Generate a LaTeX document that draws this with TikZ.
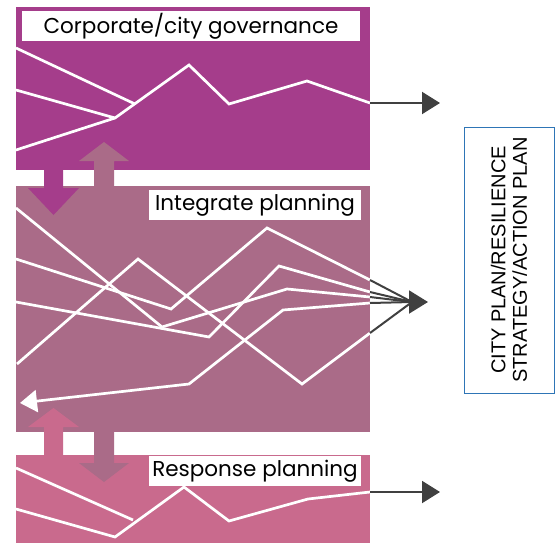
\documentclass[tikz,border=0pt]{standalone}
\usepackage{fontspec}
\setmainfont{Poppins}
\newfontfamily\arialfont{Liberation Sans}
\usepackage{xcolor}
\definecolor{govcol}{HTML}{A53D8B}
\definecolor{intcol}{HTML}{AA6B88}
\definecolor{respcol}{HTML}{C96A8D}
\definecolor{arrowgray}{HTML}{404040}
\definecolor{boxblue}{HTML}{2E75B6}
\usepackage{tikz}
\usetikzlibrary{arrows.meta}

\begin{document}
\begin{tikzpicture}[x=1pt, y=-1pt,
    tag/.style={fill=white, inner sep=0pt, minimum height=30pt,
                font=\fontsize{21.5}{24}\selectfont},
    trace/.style={draw=white, line width=2.7pt},
    outflow/.style={draw=arrowgray, line width=2pt},
    outarrow/.style={draw=arrowgray, line width=2pt,
                     -{Triangle[length=18pt, width=22pt]}},
    plan/.style={draw=boxblue, line width=1pt, align=center,
                 minimum width=266pt, minimum height=90pt,
                 font=\arialfont\fontsize{20}{21.5}\selectfont}]
  \useasboundingbox (0,0) rectangle (557,543);

  % three planning layers
  \fill[govcol] (16,7) rectangle (370,170);
  \fill[intcol] (16,186) rectangle (370,432);
  \fill[respcol] (16,455) rectangle (370,543);

  % block arrows between the layers
  \fill[govcol] (44,165) -- (63,165) -- (63,188) -- (79,188) -- (53.5,215)
    -- (28,188) -- (44,188) -- cycle;
  \fill[intcol] (94,190) -- (114,190) -- (114,161) -- (129,161) -- (104,142)
    -- (79,161) -- (94,161) -- cycle;
  \fill[respcol] (44,458) -- (63,458) -- (63,427) -- (79,427) -- (53.5,408)
    -- (28,427) -- (44,427) -- cycle;
  \fill[intcol] (94,428) -- (114,428) -- (114,463) -- (129,463) -- (104,482)
    -- (79,463) -- (94,463) -- cycle;

  % corporate/city governance
  \coordinate (g-end) at (370,103);
  \coordinate (g-tip) at (440,103);
  \draw[trace] (16,48) -- (135,104);
  \draw[trace] (16,90) -- (115,118);
  \draw[trace] (16,150) -- (115,118) -- (189,65) -- (229,104) -- (307,81)
    -- (g-end);
  \draw[outarrow] (g-end) -- (g-tip);

  % integrate planning
  \coordinate (i-a) at (370,280);
  \coordinate (i-b) at (370,292);
  \coordinate (i-c) at (370,297);
  \coordinate (i-d) at (370,303);
  \coordinate (i-e) at (370,333);
  \coordinate (i-join) at (412,302);
  \coordinate (i-tip) at (428,302);
  \coordinate (i-back) at (20,403);
  \draw[trace] (16,208) -- (162,327) -- (287,289) -- (i-c);
  \draw[trace] (16,259) -- (171,309) -- (267,228) -- (i-a);
  \draw[trace] (16,302) -- (209,337) -- (279,266) -- (i-b);
  \draw[trace] (17,364) -- (138,259) -- (302,384) -- (i-e);
  \draw[trace, -{Triangle[length=17pt, width=22pt]}] (i-d) -- (283,310)
    -- (189,384) -- (i-back);
  \foreach \p in {i-a, i-b, i-c, i-d, i-e}
    \draw[outflow] (\p) -- (i-join);
  \draw[outarrow, -{Triangle[length=19pt, width=23pt]}] (405,302) -- (i-tip);

  % response planning
  \coordinate (r-end) at (370,492);
  \coordinate (r-tip) at (440,492);
  \draw[trace] (16,468) -- (133,520);
  \draw[trace] (16,509) -- (115,537) -- (184,487) -- (229,521) -- (308,499)
    -- (r-end);
  \draw[outarrow] (r-end) -- (r-tip);

  % layer labels
  \node[tag, minimum width=338pt] (gov) at (191,26) {Corporate/city governance};
  \node[tag, minimum width=212pt] (int) at (255,205) {Integrate planning};
  \node[tag, minimum width=212pt] (resp) at (255,471) {Response planning};

  % resulting plan
  \node[plan, rotate=90] (cityplan) at (509,260)
    {CITY PLAN/RESILIENCE\\STRATEGY/ACTION PLAN};
\end{tikzpicture}
\end{document}
